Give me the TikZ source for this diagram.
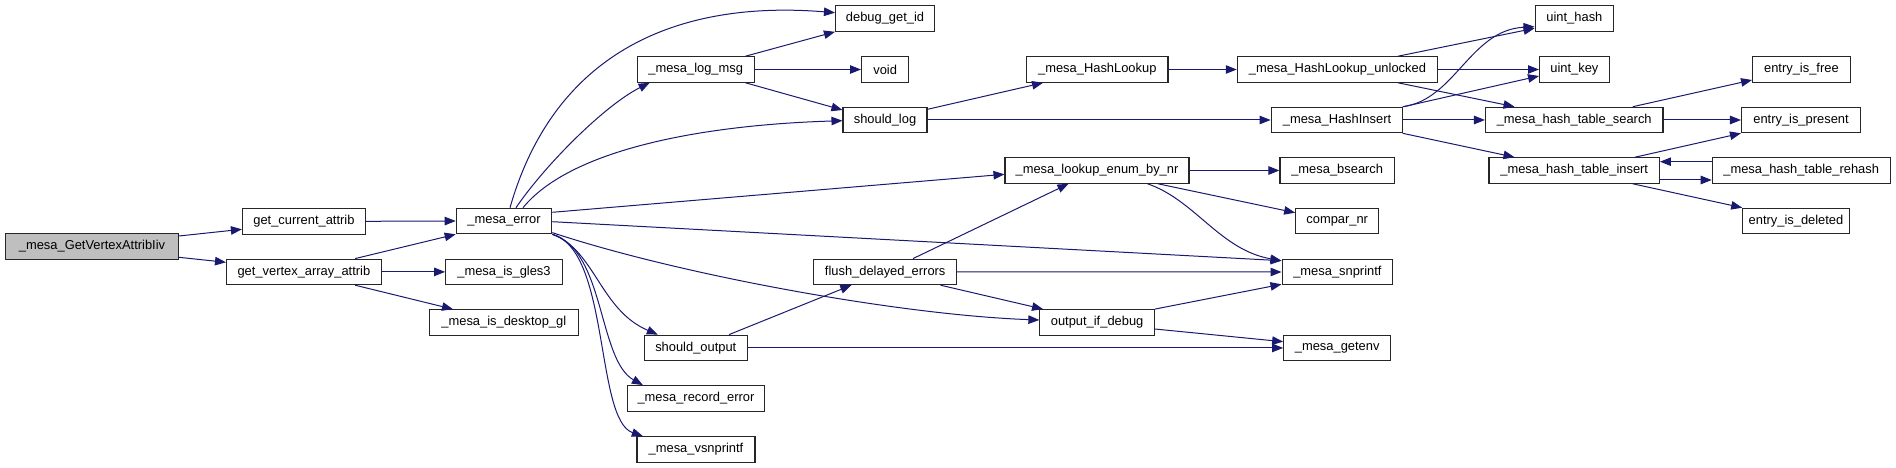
\documentclass[tikz,border=0pt]{standalone}
\usepackage{fontspec}
\setmainfont{Liberation Sans}
\usetikzlibrary{arrows.meta,calc}
\definecolor{edgeblue}{HTML}{191970}
\definecolor{rootgray}{HTML}{BFBFBF}
\begin{document}
\begin{tikzpicture}[x=1pt,y=-1pt,
  box/.style={draw=black!85,line width=1.1pt,fill=white,inner sep=0pt,minimum height=25.5pt,font=\fontsize{12.9}{14}\selectfont},
  rootbox/.style={box,fill=rootgray},
  e/.style={draw=edgeblue,line width=1pt,-{Triangle[length=11pt,width=8.5pt]}}]
\useasboundingbox (0,0) rectangle (1896,468);
% nodes
\node[rootbox,minimum width=172.7pt] (root) at (92,246.5) {\_mesa\_GetVertexAttribIiv};
\node[box,minimum width=122.9pt] (gca) at (303.9,221.3) {get\_current\_attrib};
\node[box,minimum width=154.7pt] (gvaa) at (303.9,271.9) {get\_vertex\_array\_attrib};
\node[box,minimum width=95.5pt] (err) at (504,221) {\_mesa\_error};
\node[box,minimum width=116.6pt] (gles3) at (504,271.9) {\_mesa\_is\_gles3};
\node[box,minimum width=148.5pt] (desk) at (503.8,322.5) {\_mesa\_is\_desktop\_gl};
\node[box,minimum width=99pt] (dbg) at (885,18.5) {debug\_get\_id};
\node[box,minimum width=117pt] (logmsg) at (695.7,69.5) {\_mesa\_log\_msg};
\node[box,minimum width=47.3pt] (void) at (885.2,69.5) {void};
\node[box,minimum width=84pt] (shlog) at (885,120) {should\_log};
\node[box,minimum width=141.4pt] (hlook) at (1097.3,69.5) {\_mesa\_HashLookup};
\node[box,minimum width=184pt] (lookup) at (1097,170.5) {\_mesa\_lookup\_enum\_by\_nr};
\node[box,minimum width=142.6pt] (flush) at (885.2,271.9) {flush\_delayed\_errors};
\node[box,minimum width=114.4pt] (oid) at (1097.1,322.4) {output\_if\_debug};
\node[box,minimum width=102.8pt] (shout) at (695.8,347.9) {should\_output};
\node[box,minimum width=137.2pt] (rec) at (696,398.4) {\_mesa\_record\_error};
\node[box,minimum width=118pt] (vsn) at (696,449.4) {\_mesa\_vsnprintf};
\node[box,minimum width=78.6pt] (uhash) at (1574.4,18.5) {uint\_hash};
\node[box,minimum width=200.2pt] (hlu) at (1337.4,69.5) {\_mesa\_HashLookup\_unlocked};
\node[box,minimum width=69.7pt] (ukey) at (1574.4,69.5) {uint\_key};
\node[box,minimum width=97.6pt] (free) at (1801.4,69.5) {entry\_is\_free};
\node[box,minimum width=131.8pt] (hins) at (1337,120) {\_mesa\_HashInsert};
\node[box,minimum width=177.5pt] (search) at (1574.2,120) {\_mesa\_hash\_table\_search};
\node[box,minimum width=119pt] (present) at (1801,120) {entry\_is\_present};
\node[box,minimum width=114.5pt] (bsearch) at (1337.2,170.5) {\_mesa\_bsearch};
\node[box,minimum width=170.4pt] (tinsert) at (1574.2,170.5) {\_mesa\_hash\_table\_insert};
\node[box,minimum width=178pt] (rehash) at (1801.2,170.5) {\_mesa\_hash\_table\_rehash};
\node[box,minimum width=83pt] (compar) at (1337.2,221) {compar\_nr};
\node[box,minimum width=106.5pt] (deleted) at (1796,221) {entry\_is\_deleted};
\node[box,minimum width=110.7pt] (snpr) at (1337.4,272) {\_mesa\_snprintf};
\node[box,minimum width=107pt] (getenv) at (1337.2,347.9) {\_mesa\_getenv};
% edges
\draw[e] ($(root.east)+(0,-10.5)$) -- ($(gca.west)+(0,8)$);
\draw[e] ($(root.east)+(0,10.8)$) -- ($(gvaa.west)+(0,-9.6)$);
\draw[e] (gca.east) -- (err.west);
\draw[e] ($(gvaa.north)+(51.2,0)$) -- (err.south west);
\draw[e] (gvaa.east) -- (gles3.west);
\draw[e] ($(gvaa.south)+(51.2,0)$) -- ($(desk.north)+(-50.8,0)$);
% _mesa_error
\draw[e] ($(err.north)+(6,0)$) .. controls (555,50) and (680,0) .. ($(dbg.west)+(0,-5.8)$);
\draw[e] ($(err.north)+(12,0)$) .. controls (545,165) and (605,105) .. ($(logmsg.south west)+(13,0)$);
\draw[e] ($(err.north)+(19,0)$) .. controls (570,150) and (700,125) .. ($(shlog.west)+(0,0.7)$);
\draw[e] ($(err.east)+(0,-8.7)$) -- ($(lookup.west)+(0,3.8)$);
\draw[e] ($(err.east)+(0,0.7)$) -- ($(snpr.west)+(0,-11.3)$);
\draw[e] ($(err.south east)+(0,-1.7)$) .. controls (680,275) and (900,315) .. ($(oid.west)+(0,-2.4)$);
\draw[e] (err.south east) .. controls (595,250) and (600,310) .. ($(shout.north west)+(14,0)$);
\draw[e] (err.south east) .. controls (605,250) and (598,360) .. ($(rec.north west)+(16,0)$);
\draw[e] (err.south east) .. controls (610,250) and (595,420) .. ($(vsn.north west)+(6.4,0)$);
% _mesa_log_msg
\draw[e] ($(logmsg.north east)+(-9.2,0)$) -- (dbg.south west);
\draw[e] (logmsg.east) -- (void.west);
\draw[e] ($(logmsg.south east)+(-9.2,0)$) -- ($(shlog.west)+(0,-10)$);
% should_log
\draw[e] ($(shlog.east)+(0,-10.7)$) -- ($(hlook.south west)+(17,0)$);
\draw[e] (shlog.east) -- (hins.west);
\draw[e] (hlook.east) -- (hlu.west);
% hash lookup unlocked
\draw[e] ($(hlu.north east)+(-40,0)$) -- ($(uhash.west)+(0,9.8)$);
\draw[e] (hlu.east) -- (ukey.west);
\draw[e] ($(hlu.south east)+(-40,0)$) -- ($(search.north west)+(29.6,0)$);
% hash insert
\draw[e] ($(hins.north east)+(-0.8,0)$) .. controls (1455,100) and (1470,30) .. ($(uhash.west)+(0,8.2)$);
\draw[e] (hins.north east) -- ($(ukey.west)+(0,6.5)$);
\draw[e] (hins.east) -- (search.west);
\draw[e] ($(hins.south east)+(-0.8,0)$) -- ($(tinsert.north west)+(26,0)$);
% hash table
\draw[e] ($(search.north)+(58.6,0)$) -- ($(free.west)+(0,10.5)$);
\draw[e] (search.east) -- (present.west);
\draw[e] ($(tinsert.north)+(60.8,0)$) -- (present.south west);
\draw[e] ($(tinsert.east)+(0,9.5)$) -- ($(rehash.west)+(0,9.5)$);
\draw[e] ($(rehash.west)+(0,-8.8)$) -- ($(tinsert.east)+(0,-8.8)$);
\draw[e] ($(tinsert.south)+(58.6,0)$) -- (deleted.north west);
% lookup enum
\draw[e] (lookup.east) -- (bsearch.west);
\draw[e] ($(lookup.south east)+(-31.5,0)$) -- ($(compar.west)+(0,-8.3)$);
\draw[e] ($(lookup.south east)+(-42,0)$) .. controls (1195,200) and (1220,250) .. ($(snpr.west)+(0,-11.3)$);
% flush
\draw[e] ($(flush.north)+(27.8,0)$) -- ($(lookup.south)+(-28.5,0)$);
\draw[e] (flush.east) -- (snpr.west);
\draw[e] ($(flush.south east)+(-16.5,0)$) -- ($(oid.north west)+(3.7,0)$);
% should_output
\draw[e] ($(shout.north east)+(-18.7,0)$) -- ($(flush.south west)+(38,0)$);
\draw[e] (shout.east) -- (getenv.west);
% output_if_debug
\draw[e] (oid.north east) -- ($(snpr.south west)+(0,-1)$);
\draw[e] ($(oid.east)+(0,6.6)$) -- ($(getenv.west)+(0,-6.2)$);
\end{tikzpicture}
\end{document}
